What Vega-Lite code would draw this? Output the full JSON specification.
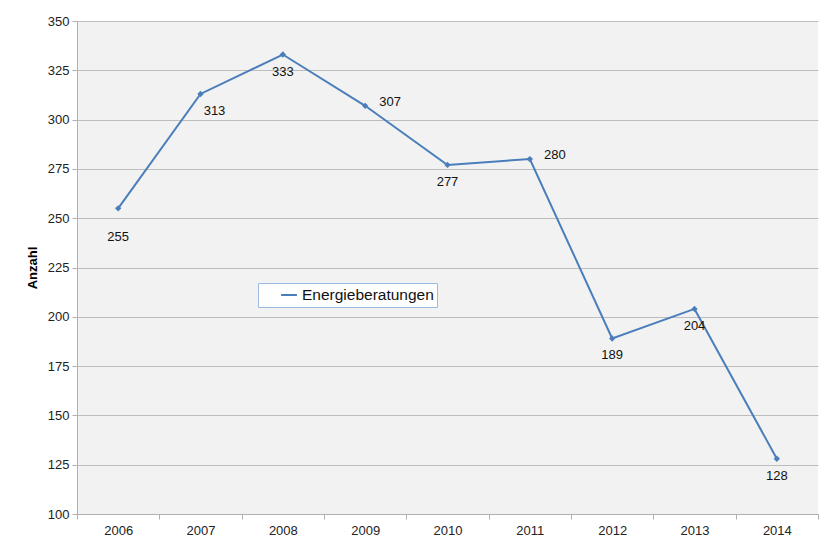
{
  "$schema": "https://vega.github.io/schema/vega-lite/v6.json",
  "autosize": {"type": "none"},
  "width": 741,
  "height": 493,
  "padding": {"left": 77, "top": 21, "right": 14, "bottom": 29},
  "background": "white",
  "config": {
    "font": "Liberation Sans",
    "view": {"fill": "#f2f2f2", "stroke": null},
    "axis": {"labelFont": "Liberation Sans", "labelFontSize": 13, "labelColor": "#222", "domainColor": "#b0b0b0", "tickColor": "#b0b0b0", "gridColor": "#bdbdbd", "tickSize": 5}
  },
  "data": {"values": [
    {"Jahr": "2006", "Anzahl": 255},
    {"Jahr": "2007", "Anzahl": 313},
    {"Jahr": "2008", "Anzahl": 333},
    {"Jahr": "2009", "Anzahl": 307},
    {"Jahr": "2010", "Anzahl": 277},
    {"Jahr": "2011", "Anzahl": 280},
    {"Jahr": "2012", "Anzahl": 189},
    {"Jahr": "2013", "Anzahl": 204},
    {"Jahr": "2014", "Anzahl": 128}
  ]},
  "encoding": {
    "x": {"field": "Jahr", "type": "ordinal", "scale": {"type": "band", "paddingInner": 0, "paddingOuter": 0},
      "axis": {"title": null, "labelAngle": 0, "tickBand": "extent", "grid": false, "labelPadding": 5, "domain": true}},
    "y": {"field": "Anzahl", "type": "quantitative", "scale": {"domain": [100, 350], "nice": false, "zero": false},
      "axis": {"title": "Anzahl", "values": [100,125,150,175,200,225,250,275,300,325,350], "grid": true, "labelPadding": 3, "titleFontSize": 13, "titleFontWeight": "bold", "titleColor": "#000", "titlePadding": 8, "titleFont": "Liberation Sans"}}
  },
  "layer": [
    {
      "mark": {"type": "line", "strokeWidth": 2, "point": {"shape": "diamond", "size": 40, "filled": true}},
      "encoding": {
        "color": {"datum": "Energieberatungen", "type": "nominal", "scale": {"range": ["#4a7ebb"]},
          "legend": {"title": null, "orient": "none", "legendX": 181, "legendY": 262, "fillColor": "white", "strokeColor": "#9bbbe0", "padding": 3, "symbolOffset": 19, "labelFontSize": 15.5, "labelColor": "#111", "labelFont": "Liberation Sans", "symbolSize": 250, "symbolStrokeWidth": 2, "symbolType": "stroke", "labelOffset": 4}}
      }
    },
    {
      "transform": [{"filter": {"field": "Jahr", "oneOf": ["2008", "2010", "2012", "2013", "2014"]}}],
      "mark": {"type": "text", "dy": 17, "fontSize": 13, "color": "#111", "font": "Liberation Sans"},
      "encoding": {"text": {"field": "Anzahl", "type": "quantitative"}}
    },
    {
      "transform": [{"filter": {"field": "Jahr", "oneOf": ["2006"]}}],
      "mark": {"type": "text", "dy": 29, "fontSize": 13, "color": "#111", "font": "Liberation Sans"},
      "encoding": {"text": {"field": "Anzahl", "type": "quantitative"}}
    },
    {
      "transform": [{"filter": {"field": "Jahr", "oneOf": ["2007"]}}],
      "mark": {"type": "text", "dx": 14, "dy": 17, "fontSize": 13, "color": "#111", "font": "Liberation Sans"},
      "encoding": {"text": {"field": "Anzahl", "type": "quantitative"}}
    },
    {
      "transform": [{"filter": {"field": "Jahr", "oneOf": ["2009", "2011"]}}],
      "mark": {"type": "text", "dx": 25, "dy": -4, "fontSize": 13, "color": "#111", "font": "Liberation Sans"},
      "encoding": {"text": {"field": "Anzahl", "type": "quantitative"}}
    }
  ]
}
